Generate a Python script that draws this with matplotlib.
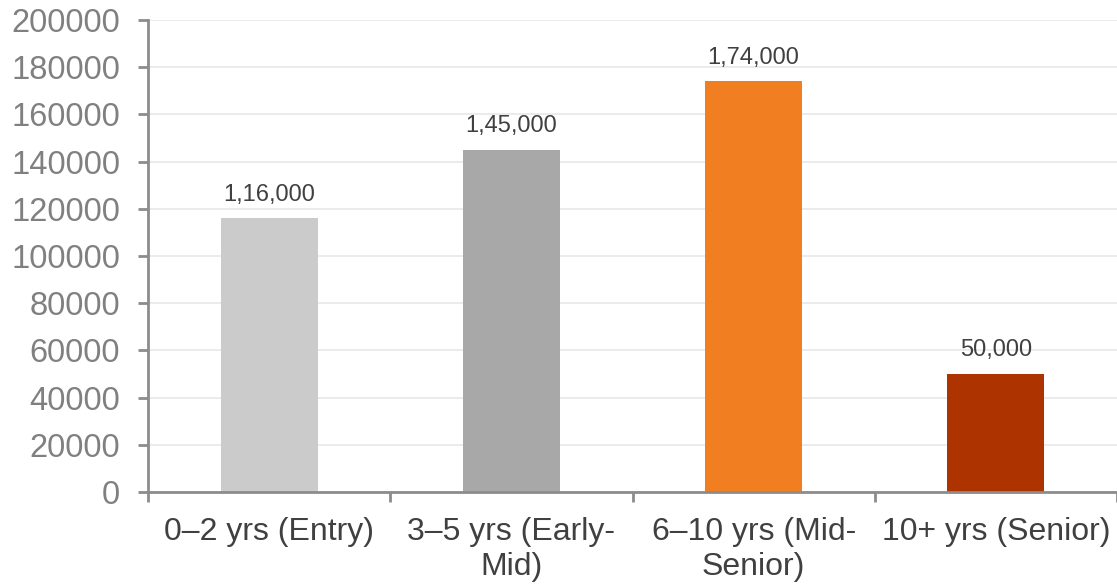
import matplotlib.pyplot as plt

plt.rcParams['font.family'] = ['Liberation Sans', 'DejaVu Sans']

categories = ["0–2 yrs (Entry)", "3–5 yrs (Early-\nMid)", "6–10 yrs (Mid-\nSenior)", "10+ yrs (Senior)"]
values = [116000, 145000, 174000, 50000]
value_labels = ["1,16,000", "1,45,000", "1,74,000", "50,000"]
colors = ["#CBCBCB", "#A8A8A8", "#F27E22", "#AD3400"]

fig = plt.figure(figsize=(11.17, 5.86), dpi=100)
ax = fig.add_axes([0.1325, 0.1604, 0.8675, 0.8055])

x = range(len(categories))
bars = ax.bar(x, values, width=0.4, color=colors, zorder=2)

for bar, lab in zip(bars, value_labels):
    ax.annotate(lab, (bar.get_x() + bar.get_width() / 2, bar.get_height()),
                xytext=(0, 9), textcoords="offset points",
                ha="center", va="bottom", fontsize=17, color="#404040")

ax.set_xlim(-0.5, 3.5)
ax.set_ylim(0, 200000)
ax.set_yticks(range(0, 200001, 20000))
ax.grid(axis="y", color="#E8E8E8", linewidth=1.2, zorder=0)

# category labels on major ticks, boundary tick marks on minor ticks
ax.set_xticks(list(x))
ax.set_xticklabels(categories, fontsize=23, color="#404040", linespacing=1.2)
ax.set_xticks([-0.5, 0.5, 1.5, 2.5, 3.5], minor=True)
ax.tick_params(axis="x", which="major", length=0, pad=18)
ax.tick_params(axis="x", which="minor", length=7, width=2, color="#8C8C8C")
ax.tick_params(axis="y", length=7, width=2, color="#8C8C8C", labelsize=23.5,
               labelcolor="#808080", pad=13)

for side in ("top", "right"):
    ax.spines[side].set_visible(False)
for side in ("left", "bottom"):
    ax.spines[side].set_color("#8C8C8C")
    ax.spines[side].set_linewidth(2)

fig.savefig("out.png", dpi=100)
